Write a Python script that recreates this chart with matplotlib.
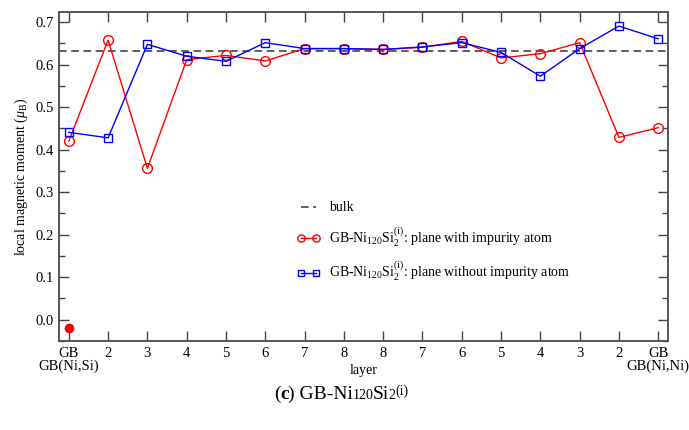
import matplotlib
matplotlib.use('Agg')
import matplotlib.pyplot as plt
from matplotlib.ticker import MultipleLocator

plt.rcParams['font.family'] = 'Liberation Serif'
plt.rcParams['mathtext.fontset'] = 'custom'
plt.rcParams['mathtext.rm'] = 'Liberation Serif'
plt.rcParams['mathtext.it'] = 'Liberation Serif:italic'

layer_labels = ['GB', '2', '3', '4', '5', '6', '7', '8',
                '8', '7', '6', '5', '4', '3', '2', 'GB']
with_impurity = [0.420, 0.658, 0.356, 0.612, 0.622, 0.609, 0.638, 0.638,
                 0.636, 0.641, 0.655, 0.616, 0.626, 0.652, 0.429, 0.452]
without_impurity = [0.441, 0.428, 0.648, 0.620, 0.608, 0.652, 0.638, 0.638,
                    0.636, 0.642, 0.652, 0.629, 0.573, 0.638, 0.691, 0.661]
bulk = 0.632
impurity_site = (0, -0.020)

fig = plt.figure(figsize=(6.89, 4.30), dpi=100)
ax = fig.add_axes([0.0856, 0.207, 0.884, 0.765])

x = list(range(len(layer_labels)))
ax.axhline(bulk, color='#333333', lw=1.1, ls=(0, (5, 3)), label='bulk')
ax.plot(x, with_impurity, color='red', lw=1, marker='o', ms=7, mfc='none',
        mec='red', mew=1,
        label=r'GB-Ni$_{120}$Si$_2^{\rm (i)}$: plane with impurity atom')
ax.plot(x, without_impurity, color='blue', lw=1, marker='s', ms=6, mfc='none',
        mec='blue', mew=1,
        label=r'GB-Ni$_{120}$Si$_2^{\rm (i)}$: plane without impurity atom')
ax.plot(*impurity_site, 'o', color='red', ms=6)

ax.set_xlim(-0.25, 15.25)
ax.set_ylim(-0.05, 0.724)
ax.set_xticks(x)
ax.set_xticklabels(layer_labels)
ax.yaxis.set_major_locator(MultipleLocator(0.1))
ax.yaxis.set_minor_locator(MultipleLocator(0.05))
ax.tick_params(which='both', direction='in', top=True, right=True,
               labelsize=10.5, color='#444444')
ax.tick_params(which='major', length=7, width=1)
ax.tick_params(which='minor', length=4, width=1)
ax.tick_params(axis='x', which='minor', top=False, bottom=False)
ax.tick_params(axis='x', pad=4)
for s in ax.spines.values():
    s.set_linewidth(1.4)
    s.set_color('#555555')

ax.set_xlabel('layer', fontsize=10, labelpad=3)
ax.set_ylabel(r'local magnetic moment ($\mu_{\rm B}$)', fontsize=10)

# end labels under the first and last tick
ax.text(0, -0.094, 'GB(Ni,Si)', ha='center', va='top', fontsize=10.5)
ax.text(15, -0.094, 'GB(Ni,Ni)', ha='center', va='top', fontsize=10.5)

ax.legend(loc='center left', bbox_to_anchor=(0.37, 0.30), frameon=False,
          fontsize=10, handlelength=1.7, numpoints=2, labelspacing=0.8,
          handletextpad=0.6, markerscale=0.75)

# caption assembled piece by piece
parts = [('(', 'normal', 14, 0), ('c', 'bold', 14, 0),
         (') GB-Ni', 'normal', 14, 0), ('120', 'normal', 10, 0),
         ('Si', 'normal', 14, 0), ('2', 'normal', 10, 0),
         ('(i)', 'normal', 10, 4)]
fig.canvas.draw()
renderer = fig.canvas.get_renderer()
xpos = 0.398
for txt, weight, size, rise in parts:
    t = fig.text(xpos, 0.072 + rise / 430, txt, fontsize=size,
                 fontweight=weight, ha='left', va='baseline')
    bb = t.get_window_extent(renderer)
    xpos += (bb.width - 0.5) / fig.bbox.width

fig.savefig('out.png', dpi=100)
